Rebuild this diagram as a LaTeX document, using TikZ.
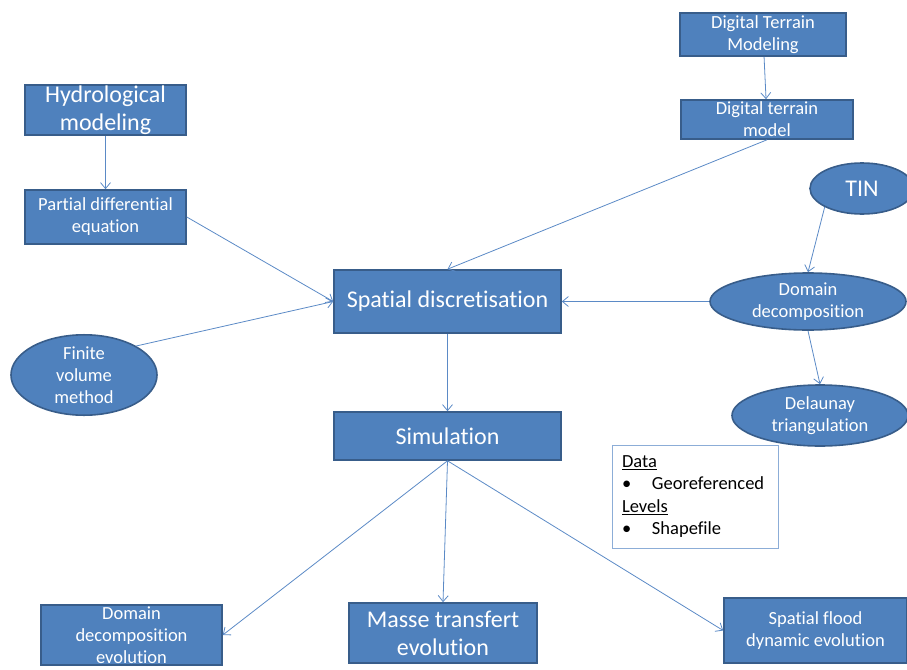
\documentclass[tikz,border=0pt]{standalone}
\usepackage{fontspec}
\setmainfont{Carlito}[Ligatures=NoCommon]
\usetikzlibrary{arrows.meta,shapes.geometric}
\definecolor{BoxFill}{HTML}{4F81BD}
\definecolor{BoxEdge}{HTML}{385D8A}
\definecolor{LinkBlue}{HTML}{5B8AC6}
\newcommand{\bigtext}{\fontsize{24}{28}\selectfont}
\newcommand{\smalltext}{\fontsize{18.5}{22}\selectfont}

\begin{document}
\begin{tikzpicture}
    [
        x=1pt,y=-1pt,
        Field/.style={rectangle,draw=BoxEdge,fill=BoxFill,line width=1.6pt,text=white,align=center,inner sep=0pt},
        Oval/.style={ellipse,draw=BoxEdge,fill=BoxFill,line width=1.6pt,text=white,align=center,inner sep=0pt},
        Note/.style={rectangle,draw=LinkBlue!70,fill=white,line width=0.6pt,align=left,inner sep=0pt,text width=166pt},
        Link/.style={draw=LinkBlue,line width=0.8pt,-{Straight Barb[length=6pt,width=10pt]}}
    ]
    \useasboundingbox (0,0) rectangle (907,669);

    \node[Field,minimum width=161pt,minimum height=50pt,font=\bigtext] (Hydro) at (105.5,110) {Hydrological\\modeling};
    \node[Field,minimum width=161pt,minimum height=54pt,font=\smalltext] (PDE) at (105.5,217) {Partial differential\\equation};
    \node[Field,minimum width=166pt,minimum height=43pt,font=\smalltext] (DTModeling) at (763,34.5) {Digital Terrain\\Modeling};
    \node[Field,minimum width=172pt,minimum height=39pt,font=\smalltext] (DTModel) at (767,119.5) {Digital terrain\\model};
    \node[Field,minimum width=227pt,minimum height=63pt,font=\bigtext] (Spatial) at (447.5,301.5) {Spatial discretisation};
    \node[Oval,minimum width=104pt,minimum height=51pt,font=\bigtext] (TIN) at (862,188.5) {TIN};
    \node[Oval,minimum width=196pt,minimum height=57pt,font=\smalltext] (DomDec) at (808,301.5) {Domain\\decomposition};
    \node[Oval,minimum width=176pt,minimum height=61pt,font=\smalltext] (Delaunay) at (820,415.5) {Delaunay\\triangulation};
    \node[Oval,minimum width=146pt,minimum height=76pt,font=\smalltext] (FVM) at (84,375) {Finite\\volume\\method};
    \node[Field,minimum width=227pt,minimum height=48pt,font=\bigtext] (Sim) at (447.5,436) {Simulation};
    \node[Note,minimum height=103pt,font=\fontsize{18.5}{22.5}\selectfont] (Data) at (695,496.5)
        {\hspace*{10pt}\underline{Data}\\
         \hspace*{10pt}\makebox[30pt][l]{\textbullet}Georeferenced\\
         \hspace*{10pt}\underline{Levels}\\
         \hspace*{10pt}\makebox[30pt][l]{\textbullet}Shapefile};
    \node[Field,minimum width=181pt,minimum height=60pt,font=\smalltext] (DomEvol) at (131.5,635) {Domain\\decomposition\\evolution};
    \node[Field,minimum width=188pt,minimum height=60pt,font=\bigtext] (Masse) at (443,633) {Masse transfert\\evolution};
    \node[Field,minimum width=183pt,minimum height=65pt,font=\smalltext] (Flood) at (815.5,630.5) {Spatial flood\\dynamic evolution};

    \draw[Link] (Hydro) -- (PDE);
    \draw[Link] (DTModeling) -- (DTModel);
    \draw[Link] (DTModel.south) -- (Spatial.north);
    \draw[Link] (PDE.east) -- (Spatial.west);
    \draw[Link] (FVM.north east) -- (Spatial.west);
    \draw[Link] (TIN.south west) -- (DomDec.north);
    \draw[Link] (DomDec.west) -- (Spatial.east);
    \draw[Link] (DomDec.south) -- (Delaunay.north);
    \draw[Link] (Spatial) -- (Sim);
    \draw[Link] (Sim.south) -- (DomEvol.east);
    \draw[Link] (Sim.south) -- (Masse.north);
    \draw[Link] (Sim.south) -- (Flood.west);
\end{tikzpicture}
\end{document}
